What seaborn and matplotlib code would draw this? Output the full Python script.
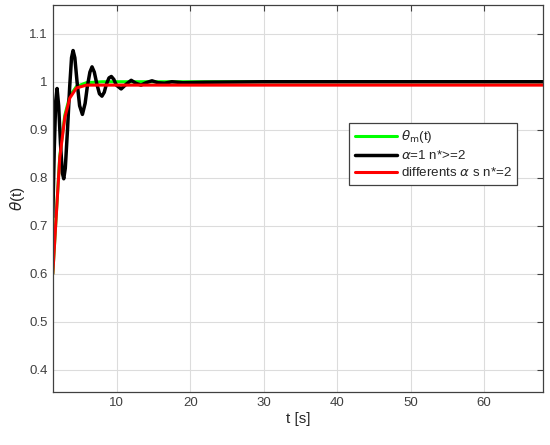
import numpy as np
import pandas as pd
import seaborn as sns
import matplotlib.pyplot as plt

# datos
t_m = [1.3, 1.7, 2.25, 2.93, 3.61, 4.51, 5.87, 8.0, 12.0, 20.0, 40.0, 68.0]
theta_m = [0.6, 0.705, 0.845, 0.93, 0.97, 0.99, 0.998, 1.0, 1.0, 1.0, 1.0, 1.0]

t_a1 = [1.3, 1.5, 1.7, 1.88, 2.1, 2.35, 2.6, 2.79, 3.0, 3.3, 3.6, 3.85, 4.06,
        4.3, 4.6, 4.95, 5.33, 5.7, 6.0, 6.35, 6.64, 6.95, 7.3, 7.65, 7.99,
        8.3, 8.6, 8.95, 9.27, 9.6, 9.95, 10.6, 11.3, 11.97, 12.6, 13.3,
        14.0, 14.8, 15.6, 16.5, 17.5, 19.0, 22.0, 30.0, 68.0]
theta_a1 = [0.718, 0.86, 0.96, 0.986, 0.95, 0.87, 0.81, 0.798, 0.82, 0.9,
            0.99, 1.05, 1.065, 1.05, 1.0, 0.95, 0.932, 0.955, 0.99, 1.02,
            1.031, 1.02, 0.995, 0.975, 0.970, 0.978, 0.995, 1.008, 1.011,
            1.005, 0.993, 0.985, 0.995, 1.003, 0.997, 0.993, 0.998, 1.002,
            0.998, 0.997, 1.0, 0.998, 0.999, 1.0, 1.0]

t_dif = [1.3, 1.7, 2.25, 2.93, 3.61, 4.51, 5.87, 8.0, 15.0, 30.0, 68.0]
theta_dif = [0.6, 0.704, 0.842, 0.925, 0.966, 0.987, 0.993, 0.993, 0.993,
             0.993, 0.993]

y_ticks = [0.4, 0.5, 0.6, 0.7, 0.8, 0.9, 1.0, 1.1]
y_labels = ['0.4', '0.5', '0.6', '0.7', '0.8', '0.9', '1', '1.1']
x_ticks = [10, 20, 30, 40, 50, 60]

sns.set_theme(style='whitegrid')
plt.rcParams['font.family'] = ['Liberation Sans', 'DejaVu Sans']

fig = plt.figure(figsize=(5.5, 4.45), dpi=100)
ax = fig.add_axes([0.096, 0.119, 0.891, 0.870])

sns.lineplot(x=t_m, y=theta_m, ax=ax, color='#00ff00', linewidth=2.2,
             label=r'$\theta_{\rm m}$(t)')
sns.lineplot(x=t_a1, y=theta_a1, ax=ax, color='black', linewidth=2.5,
             label=r'$\alpha$=1 n*>=2')
sns.lineplot(x=t_dif, y=theta_dif, ax=ax, color='#ff0000', linewidth=2.2,
             label=r'differents $\alpha$ s n*=2')

ax.set_xlim(1.3, 68)
ax.set_ylim(0.354, 1.16)
ax.set_xticks(x_ticks)
ax.set_yticks(y_ticks)
ax.set_yticklabels(y_labels)
ax.set_xlabel('t [s]', fontsize=11, color='#262626', labelpad=2)
ax.set_ylabel(r'$\theta$(t)', fontsize=11, color='#262626', labelpad=2)

ax.grid(True, color='#dcdcdc', linewidth=0.8)
ax.tick_params(direction='in', length=4, top=True, right=True,
               labelsize=9.5, colors='#404040', width=0.8)
for s in ax.spines.values():
    s.set_color('#404040')
    s.set_linewidth(0.9)
ax.set_facecolor('white')

leg = ax.legend(loc='upper left', bbox_to_anchor=(0.605, 0.695),
                fontsize=9.6, frameon=True, fancybox=False, handlelength=3.2,
                borderpad=0.4, labelspacing=0.3, handletextpad=0.3,
                borderaxespad=0)
leg.get_frame().set_edgecolor('#404040')
leg.get_frame().set_linewidth(0.9)
leg.get_frame().set_alpha(1)
for txt in leg.get_texts():
    txt.set_color('#262626')

fig.savefig('out.png', dpi=100)
